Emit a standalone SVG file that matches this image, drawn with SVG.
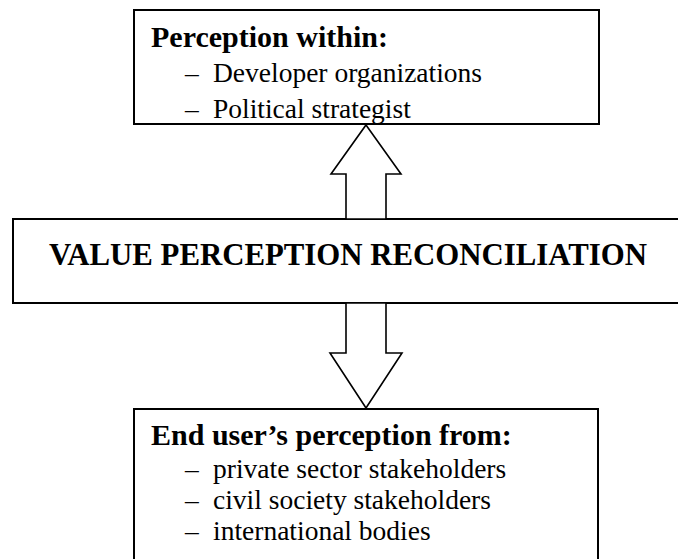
<svg xmlns="http://www.w3.org/2000/svg" width="678" height="559" viewBox="0 0 678 559">
<style>
.box{fill:#fff;stroke:#000;stroke-width:2}
.arrow{fill:#fff;stroke:#000;stroke-width:1.6;stroke-linejoin:miter}
.t{font-family:"Liberation Serif","Times New Roman",serif;fill:#000}
.b{font-weight:bold;font-size:30px}
.r{font-size:27.5px}
.m{font-weight:bold;font-size:32px}
</style>
<rect width="678" height="559" fill="#fff"/>
<g id="top-node">
<rect class="box" x="134" y="10" width="465" height="114"/>
<text class="t b" x="151" y="47">Perception within:</text>
<text class="t r" x="185" y="82">–</text>
<text class="t r" x="213" y="82">Developer organizations</text>
<text class="t r" x="185" y="118">–</text>
<text class="t r" x="213" y="118">Political strategist</text>
</g>
<g id="middle-node">
<rect class="box" x="13" y="219" width="677" height="84"/>
<text class="t m" x="49" y="265" textLength="598" lengthAdjust="spacingAndGlyphs">VALUE PERCEPTION RECONCILIATION</text>
</g>
<g id="bottom-node">
<rect class="box" x="134" y="409" width="464" height="170"/>
<text class="t b" x="151" y="445">End user’s perception from:</text>
<text class="t r" x="185" y="478">–</text>
<text class="t r" x="213" y="478">private sector stakeholders</text>
<text class="t r" x="185" y="509">–</text>
<text class="t r" x="213" y="509">civil society stakeholders</text>
<text class="t r" x="185" y="540">–</text>
<text class="t r" x="213" y="540">international bodies</text>
</g>
<g id="connectors">
<polygon class="arrow" points="366,125 401,174 386,174 386,219 346,219 346,174 331,174"/>
<polygon class="arrow" points="346,303 386,303 386,353 402,353 366,408 330,353 346,353"/>
</g>
</svg>
